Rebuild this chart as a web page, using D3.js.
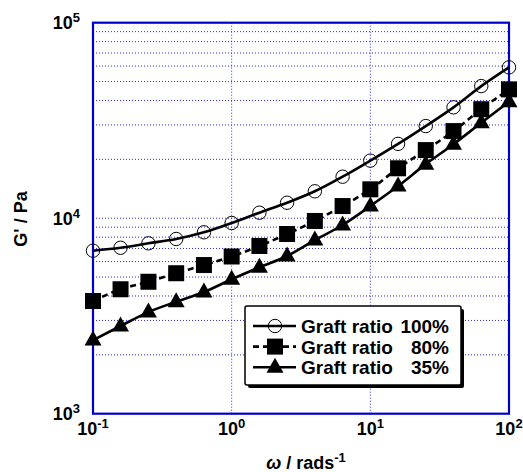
<!DOCTYPE html>
<html>
<head>
<meta charset="utf-8">
<script src="https://cdn.jsdelivr.net/npm/d3@7"></script>
<style>
  html, body { margin: 0; padding: 0; background: #fff; }
  svg { display: block; }
  text { font-family: "Liberation Sans", Arial, sans-serif; font-weight: bold; fill: #000; }
</style>
</head>
<body>
<svg id="chart" width="523" height="472"></svg>
<script>
// ---- data ----
const omega = [0.1, 0.158, 0.251, 0.398, 0.631, 1, 1.585, 2.51, 3.98, 6.31, 10, 15.85, 25.1, 39.8, 63.1, 100];
const graft100 = [6820, 7060, 7440, 7830, 8470, 9450, 10670, 12000, 13730, 16300, 19700, 24000, 29600, 36900, 47400, 59100];
const graft80  = [3770, 4330, 4730, 5230, 5760, 6370, 7210, 8300, 9680, 11540, 14050, 18000, 22300, 27900, 36100, 45600];
const graft35  = [2380, 2810, 3310, 3740, 4190, 4870, 5610, 6410, 7730, 9230, 11540, 14600, 18900, 23900, 30800, 39400];
const seriesNames = ["Graft ratio", "Graft ratio", "Graft ratio"];
const seriesPct = ["100%", "80%", "35%"];
const xTickExp = [-1, 0, 1, 2];
const yTickExp = [3, 4, 5];
const xTitle = "ω";
const xTitleRest = " / rads";
const xTitleSup = "-1";
const yTitle = "G' / Pa";

// ---- layout ----
const svg = d3.select("#chart");
const L = 93, R = 509, T = 22.7, B = 413.7;
const x = d3.scaleLog().domain([0.1, 100]).range([L, R]);
const y = d3.scaleLog().domain([1000, 100000]).range([B, T]);
const blue = "#0000cc";
const gridCol = "#2a2ae6";

// grid
const g = svg.append("g");
const yGrid = y.ticks().filter(v => v > 1000 && v < 100000);
g.selectAll(".hg").data(yGrid).enter().append("line")
  .attr("x1", L).attr("x2", R)
  .attr("y1", d => y(d)).attr("y2", d => y(d))
  .attr("stroke", gridCol).attr("stroke-width", 1).attr("stroke-dasharray", "1,2");
const xGrid = xTickExp.map(e => Math.pow(10, e)).filter(v => v > 0.1 && v < 100);
g.selectAll(".vg").data(xGrid).enter().append("line")
  .attr("y1", T).attr("y2", B)
  .attr("x1", d => x(d)).attr("x2", d => x(d))
  .attr("stroke", gridCol).attr("stroke-width", 1).attr("stroke-dasharray", "1,2");

// frame
svg.append("rect").attr("x", L).attr("y", T).attr("width", R - L).attr("height", B - T)
  .attr("fill", "none").attr("stroke", blue).attr("stroke-width", 2.2);

// tick labels
const xl = svg.append("g");
xTickExp.forEach(e => {
  const t = xl.append("text").attr("x", x(Math.pow(10, e))).attr("y", 435)
    .attr("text-anchor", "middle").style("font-size", "18px");
  t.append("tspan").text("10");
  t.append("tspan").attr("dy", -7).style("font-size", "13px").text(String(e));
});
yTickExp.forEach(e => {
  const t = xl.append("text").attr("x", 80).attr("y", y(Math.pow(10, e)) + 6.5)
    .attr("text-anchor", "end").style("font-size", "18px");
  t.append("tspan").text("10");
  t.append("tspan").attr("dy", -7).style("font-size", "13px").text(String(e));
});

// axis titles
const xt = svg.append("text").attr("x", 306).attr("y", 469).attr("text-anchor", "middle").style("font-size", "18px");
xt.append("tspan").style("font-style", "italic").text(xTitle);
xt.append("tspan").text(xTitleRest);
xt.append("tspan").attr("dy", -7).style("font-size", "13px").text(xTitleSup);
svg.append("text").attr("transform", "translate(27,219) rotate(-90)")
  .attr("text-anchor", "middle").style("font-size", "18px").text(yTitle);

// series
const series = [
  { vals: graft100, dash: null, sym: "circle" },
  { vals: graft80, dash: "6,4", sym: "square" },
  { vals: graft35, dash: null, sym: "triangle" }
];
const line = d3.line().x(d => x(d[0])).y(d => y(d[1])).curve(d3.curveMonotoneX);

function drawMarker(sel, sym) {
  if (sym === "circle") {
    sel.append("circle").attr("r", 6.7).attr("fill", "none").attr("stroke", "#000").attr("stroke-width", 1);
  } else if (sym === "square") {
    sel.append("rect").attr("x", -8).attr("y", -8).attr("width", 16).attr("height", 16).attr("fill", "#000");
  } else {
    sel.append("path").attr("d", "M0,-9.5L8.5,5.5L-8.5,5.5Z").attr("fill", "#000");
  }
}

const sg = svg.append("g");
series.forEach(s => {
  const pts = omega.map((w, i) => [w, s.vals[i]]);
  sg.append("path").datum(pts).attr("d", line)
    .attr("fill", "none").attr("stroke", "#000").attr("stroke-width", 2.6)
    .attr("stroke-dasharray", s.dash);
  pts.forEach(p => {
    const m = sg.append("g").attr("transform", `translate(${x(p[0])},${y(p[1])})`);
    drawMarker(m, s.sym);
  });
});

// legend
const lg = svg.append("g");
const lx = 245, ly = 306, lw = 216, lh = 79;
lg.append("rect").attr("x", lx + 3).attr("y", ly + 3).attr("width", lw).attr("height", lh).attr("rx", 2).attr("fill", "#000");
lg.append("rect").attr("x", lx).attr("y", ly).attr("width", lw).attr("height", lh).attr("rx", 2)
  .attr("fill", "#fff").attr("stroke", "#000").attr("stroke-width", 1.5);
series.forEach((s, i) => {
  const ry = 326 + i * 20.6;
  lg.append("line").attr("x1", 253).attr("x2", 296).attr("y1", ry).attr("y2", ry)
    .attr("stroke", "#000").attr("stroke-width", 2.6).attr("stroke-dasharray", s.dash);
  const m = lg.append("g").attr("transform", `translate(275,${ry})`);
  drawMarker(m, s.sym);
  lg.append("text").attr("x", 301).attr("y", ry + 7).style("font-size", "19px").text(seriesNames[i]);
  lg.append("text").attr("x", 449).attr("y", ry + 7).attr("text-anchor", "end").style("font-size", "19px").text(seriesPct[i]);
});
</script>
</body>
</html>
